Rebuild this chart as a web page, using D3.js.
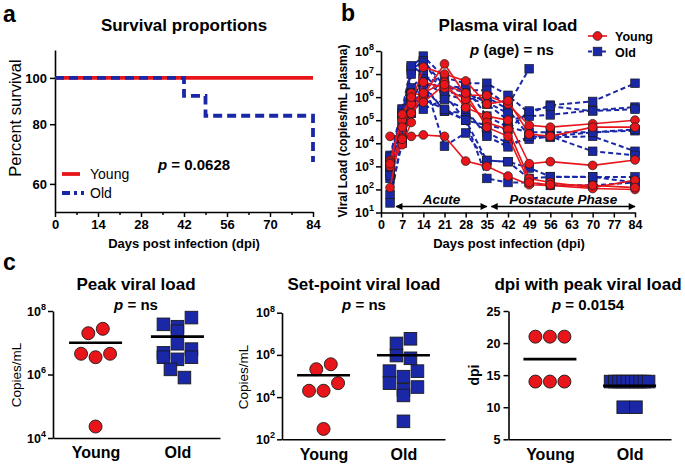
<!DOCTYPE html>
<html><head><meta charset="utf-8">
<script src="https://cdn.jsdelivr.net/npm/d3@7"></script>
<style>
body{margin:0;background:#fff}
svg{font-family:"Liberation Sans",Arial,sans-serif}
</style></head><body>
<svg id="c" width="685" height="465"></svg>
<script>
// ---------- DATA ----------
// panel a: survival
const survYoungDays = [0, 84];
const survYoungPct  = [100, 100];
const survOldDays   = [0, 42, 49, 84];
const survOldPct    = [100, 91.67, 83.33, 66.67];
const survTicksY    = [60, 80, 100];
const survTicksX    = [0, 14, 28, 42, 56, 70, 84];

// panel b: plasma viral load (copies/mL)
const days = [3, 7, 10, 14, 21, 28, 35, 42, 49, 56, 70, 84];
const young1 = [1.8e3, 1.0e5, 1.5e6, 1.2e6, 2.75e7, 1.2e6, 1.2e6, 5e5, 6e4, 5e4, 7e4, 1e5];
const young2 = [1.2e2, 5e4, 5e5, 2.0e7, 1e7, 5e6, 5e5, 7e5, 2.5e4, 2e4, 5e4, 5e4];
const young3 = [1.5e3, 1.7e4, 2e5, 1.5e6, 4.5e6, 3.5e5, 1.5e5, 1e5, 1.3e3, 1.6e3, 1.1e3, 1.9e3];
const young4 = [1e3, 8.7e3, 8e4, 4.5e6, 2.5e6, 8e5, 8e4, 4e4, 3e2, 2e2, 1.2e2, 2.5e2];
const young5 = [2e4, 1.5e4, 2e4, 2.3e4, 2e4, 1.7e3, 1e3, 3.8e2, 1.6e2, 1.5e2, 1.1e2, 1e2];
const young6 = [1.3e3, 1.8e5, 1e6, 6e5, 3.5e6, 1.5e6, 5e4, 2e4, 2e2, 1.6e2, 1.5e2, 1.2e2];
const old1  = [3e3, 3e5, 2e7, 6e7, 7e6, 4e6, 4e6, 1.2e6, 2e5, 4.5e5, 6.5e5, 4e6];
const old2  = [1e3, 2e5, 1.5e7, 3.8e7, 3e6, 2e6, 2e6, 4.4e5, 1.7e7, null, null, null];
const old3  = [5e2, 1.2e5, 1e7, 3.2e7, 2e6, 1e6, 5e5, 1e5, 1.5e5, 1.7e5, 2.7e5, 3.7e5];
const old4  = [3e2, 3e4, 2.3e7, 1e7, 1.3e6, 8e5, 1e6, 3e5, 2e4, 1.8e4, 2e4, 4.5e3];
const old5  = [6e1, 1e4, 2.5e6, 9e6, 3e6, 2.6e6, 1.5e5, 5e4, 3e4, 3e4, 3e4, 3.5e4];
const old6  = [2.6e1, 2e4, 8e5, 6.3e6, 7.5e3, 2.8e4, 1.8e3, 1.6e3, 3e2, 3.5e2, 3.5e2, 3.5e2];
const old7  = [2e3, 5e4, 2e5, 4.8e6, 1.3e6, 1e5, 3e2, 2e2, 2e2, 1.5e2, 1.5e2, 2e2];
const old8  = [8e2, 3e5, 1e6, 3.5e6, 2.5e5, 2e5, 3e4, 1e4, 1.5e4, 2e4, 4.5e3, 3e3];
const old9  = [1.5e3, 1.5e5, 1e6, 3.5e6, 3e6, 1.5e6, 6e5, 2e5, null, null, null, null];
const old10 = [4e2, 4e4, 1.5e6, 3e6, 2.5e5, 1e5, 6e4, 4e4, 2.5e5, 4e5, 2.5e5, 3e5];
const old11 = [2.5e3, 2e5, 1.4e6, 3e5, 8e5, 3e5, 2e4, 7e3, 2e4, 2e4, 3e4, 4e4];
const old12 = [1e3, 1.5e4, 2e5, 8e5, 3e5, 1e5, 1.8e3, 1.6e3, 8.5e2, 3.6e2, 3.5e2, 2e2];
const youngSeries = [young1, young2, young3, young4, young5, young6];
const oldSeries = [old1, old2, old3, old4, old5, old6, old7, old8, old9, old10, old11, old12];
const vlTicksX = [0, 7, 14, 21, 28, 35, 42, 49, 56, 63, 70, 77, 84];
const vlTicksY = [1e1, 1e2, 1e3, 1e4, 1e5, 1e6, 1e7, 1e8];
const acuteSpan = [5, 35];
const postacuteSpan = [36.5, 84];

// panel c
const groups = ["Young", "Old"];
const peakYoung = [2.0e7, 2.75e7, 4.5e6, 3.5e6, 4.5e6, 2.3e4];
const peakOld   = [3.8e7, 3.2e7, 6.2e7, 2.3e7, 4.8e6, 9.3e6, 6.3e6, 3.5e6, 3.0e6, 3.5e6, 1.45e6, 8e5];
const setYoung  = [2.1e5, 3.6e5, 2.0e4, 2.0e4, 4.6e4, 3.1e2];
const setOld    = [3.5e6, 5.8e6, 9.3e5, 6.9e5, 1.7e5, 9.3e4, 1.7e5, 4.6e4, 2.2e4, 3.0e4, 1.2e4, 7.1e2];
const dpiYoung  = [21, 21, 21, 14, 14, 14];
const dpiOld    = [14, 14, 14, 14, 14, 14, 14, 14, 14, 14, 10, 10];
const peakTicks = [1e4, 1e6, 1e8];
const setTicks  = [1e2, 1e4, 1e6, 1e8];
const dpiTicks  = [5, 10, 15, 20, 25];

// ---------- STYLE ----------
const RED = "#e8161b", BLUE = "#1a28a8", EDGE = "#1a1a1a";
const svg = d3.select("#c");

function styleAxis(g) {
  g.select(".domain").attr("stroke", "#000").attr("stroke-width", 1.6);
  g.selectAll(".tick line").attr("stroke", "#000").attr("stroke-width", 1.5);
  g.selectAll(".tick text").attr("fill", "#000").attr("font-weight", "bold")
    .attr("font-family", '"Liberation Sans",Arial,sans-serif');
}
function text(x, y, s, o = {}) {
  const t = svg.append("text").attr("x", x).attr("y", y).text(s)
    .attr("font-size", o.size || 13).attr("font-weight", o.weight || "bold")
    .attr("text-anchor", o.anchor || "middle").attr("fill", "#000");
  if (o.style) t.attr("font-style", o.style);
  if (o.rotate) t.attr("transform", `rotate(-90,${x},${y})`);
  return t;
}
function pText(x, y, rest, size) {
  const t = svg.append("text").attr("x", x).attr("y", y).attr("text-anchor", "middle")
    .attr("font-size", size).attr("font-weight", "bold");
  t.append("tspan").attr("font-style", "italic").text("p");
  t.append("tspan").text(rest);
}
function powLabels(g, scale, vals, x, size) {
  vals.forEach(v => {
    const t = g.append("text").attr("x", x).attr("y", scale(v) + size * 0.36)
      .attr("text-anchor", "end").attr("font-size", size).attr("font-weight", "bold");
    t.append("tspan").text("10");
    t.append("tspan").attr("dy", -size * 0.45).attr("font-size", size * 0.72).text(Math.round(Math.log10(v)));
  });
}

// panel letters
text(3, 22, "a", {size: 23, anchor: "start"});
text(341, 21, "b", {size: 23, anchor: "start"});
text(3, 270, "c", {size: 23, anchor: "start"});

// ---------- PANEL A ----------
{
  const x = d3.scaleLinear().domain([0, 84]).range([55, 313]);
  const y = d3.scaleLog().domain([52.4, 114.4]).range([212, 50]);
  const gx = svg.append("g").attr("transform", "translate(0,212)")
    .call(d3.axisBottom(x).tickValues(survTicksX).tickSize(5).tickSizeOuter(0).tickPadding(3));
  gx.selectAll(".tick text").attr("font-size", 13);
  styleAxis(gx);
  svg.append("g").attr("transform", "translate(0,212)")
    .call(d3.axisBottom(x).tickValues(d3.range(7, 84, 14)).tickSize(3).tickFormat(""))
    .call(g => { g.select(".domain").remove(); styleAxis(g); });
  const gy = svg.append("g").attr("transform", "translate(55,0)")
    .call(d3.axisLeft(y).tickValues(survTicksY).tickFormat(d3.format("d")).tickSize(5).tickSizeOuter(0));
  gy.selectAll(".tick text").attr("font-size", 13);
  styleAxis(gy);

  const line = d3.line().x(d => x(d[0])).y(d => y(d[1]));
  svg.append("path").datum(d3.zip(survYoungDays, survYoungPct)).attr("d", line)
    .attr("fill", "none").attr("stroke", RED).attr("stroke-width", 3.8);
  svg.append("path").datum(d3.zip(survOldDays, survOldPct)).attr("d", line.curve(d3.curveStepAfter))
    .attr("fill", "none").attr("stroke", BLUE).attr("stroke-width", 3.8).attr("stroke-dasharray", "9,5");

  text(184, 31, "Survival proportions", {size: 17});
  text(21, 118, "Percent survival", {size: 16.5, weight: "normal", rotate: true});
  text(184, 248, "Days post infection (dpi)", {size: 13});
  pText(194, 170, " = 0.0628", 15);
  svg.append("line").attr("x1", 62).attr("x2", 80).attr("y1", 174).attr("y2", 174)
    .attr("stroke", RED).attr("stroke-width", 3.8);
  svg.append("line").attr("x1", 62).attr("x2", 84).attr("y1", 193).attr("y2", 193)
    .attr("stroke", BLUE).attr("stroke-width", 3.8).attr("stroke-dasharray", "8,4,3,4");
  text(90, 179, "Young", {size: 14, weight: "normal", anchor: "start"});
  text(90, 198, "Old", {size: 14, weight: "normal", anchor: "start"});
}

// ---------- PANEL B ----------
{
  const x = d3.scaleLinear().domain([0, 84]).range([381, 635]);
  const y = d3.scaleLog().domain([1e1, 1e8]).range([212.5, 51]);
  const gx = svg.append("g").attr("transform", "translate(0,212.5)")
    .call(d3.axisBottom(x).tickValues(vlTicksX).tickSize(5).tickSizeOuter(0).tickPadding(3));
  gx.selectAll(".tick text").attr("font-size", 12.5);
  styleAxis(gx);
  const gy = svg.append("g").attr("transform", "translate(381,0)")
    .call(d3.axisLeft(y).tickValues(vlTicksY).tickFormat("").tickSize(5).tickSizeOuter(0));
  styleAxis(gy);
  powLabels(svg.append("g"), y, vlTicksY, 374, 12.5);

  const line = d3.line().defined(d => d[1] != null).x(d => x(d[0])).y(d => y(d[1]));
  oldSeries.forEach(s => {
    svg.append("path").datum(d3.zip(days, s)).attr("d", line)
      .attr("fill", "none").attr("stroke", BLUE).attr("stroke-width", 2).attr("stroke-dasharray", "5,3");
  });
  oldSeries.forEach(s => {
    svg.append("g").selectAll("rect").data(d3.zip(days, s).filter(d => d[1] != null)).join("rect")
      .attr("x", d => x(d[0]) - 4.3).attr("y", d => y(d[1]) - 4.3).attr("width", 8.6).attr("height", 8.6)
      .attr("fill", BLUE).attr("stroke", EDGE).attr("stroke-width", 0.7);
  });
  youngSeries.forEach(s => {
    svg.append("path").datum(d3.zip(days, s)).attr("d", line)
      .attr("fill", "none").attr("stroke", RED).attr("stroke-width", 1.6);
  });
  youngSeries.forEach(s => {
    svg.append("g").selectAll("circle").data(d3.zip(days, s)).join("circle")
      .attr("cx", d => x(d[0])).attr("cy", d => y(d[1])).attr("r", 4.4)
      .attr("fill", RED).attr("stroke", EDGE).attr("stroke-width", 0.7);
  });

  // phase arrows
  const defs = svg.append("defs");
  defs.append("marker").attr("id", "ah").attr("viewBox", "0 0 10 10").attr("refX", 9).attr("refY", 5)
    .attr("markerWidth", 8).attr("markerHeight", 7).attr("markerUnits", "userSpaceOnUse")
    .attr("orient", "auto-start-reverse")
    .append("path").attr("d", "M0,0 L10,5 L0,10 z").attr("fill", "#000");
  const ay = y(1e1) - 6;
  [acuteSpan, postacuteSpan].forEach(sp => {
    svg.append("line").attr("x1", x(sp[0])).attr("x2", x(sp[1])).attr("y1", ay).attr("y2", ay)
      .attr("stroke", "#000").attr("stroke-width", 1.5)
      .attr("marker-start", "url(#ah)").attr("marker-end", "url(#ah)");
  });
  text(x(d3.mean(acuteSpan)), ay - 3, "Acute", {size: 13.5, style: "italic"});
  text(x(d3.mean(postacuteSpan)), ay - 3, "Postacute Phase", {size: 13.5, style: "italic"});

  text(508, 31, "Plasma viral load", {size: 17});
  pText(512, 55, " (age) = ns", 15);
  text(509, 248, "Days post infection (dpi)", {size: 13});
  text(347, 131, "Viral Load (copies/mL plasma)", {size: 12, rotate: true});

  // legend
  svg.append("line").attr("x1", 588).attr("x2", 607).attr("y1", 36).attr("y2", 36)
    .attr("stroke", RED).attr("stroke-width", 1.6);
  svg.append("circle").attr("cx", 597.5).attr("cy", 36).attr("r", 4.4)
    .attr("fill", RED).attr("stroke", EDGE).attr("stroke-width", 0.7);
  svg.append("line").attr("x1", 588).attr("x2", 608).attr("y1", 51.5).attr("y2", 51.5)
    .attr("stroke", BLUE).attr("stroke-width", 2).attr("stroke-dasharray", "4,3");
  svg.append("rect").attr("x", 593.2).attr("y", 47.2).attr("width", 8.6).attr("height", 8.6)
    .attr("fill", BLUE).attr("stroke", EDGE).attr("stroke-width", 0.7);
  text(615, 41, "Young", {size: 12.5, anchor: "start"});
  text(615, 56.5, "Old", {size: 12.5, anchor: "start"});
}

// ---------- PANEL C ----------
function swarm(values, y, cx, d, maxW) {
  const pts = values.map((v, i) => ({v, i, py: y(v)}));
  const sorted = pts.slice().sort((a, b) => a.py - b.py);
  const rows = []; let cur = null;
  for (const p of sorted) {
    if (cur && p.py - cur[0].py < d * 0.8) cur.push(p); else { cur = [p]; rows.push(cur); }
  }
  rows.forEach(r => {
    r.sort((a, b) => a.i - b.i);
    const n = r.length, s = n > 1 ? Math.min(d, maxW / (n - 1)) : 0;
    r.forEach((p, k) => p.px = cx + (k - (n - 1) / 2) * s);
  });
  return pts;
}

function dotPanel(cfg) {
  const x = d3.scalePoint().domain(groups).range([cfg.x0, cfg.x1]).padding(0.52);
  const y = cfg.y;
  const gx = svg.append("g").attr("transform", `translate(0,${cfg.yb})`)
    .call(d3.axisBottom(x).tickSize(0).tickSizeOuter(0).tickPadding(9));
  styleAxis(gx);
  gx.selectAll(".tick text").attr("font-size", 16);
  const gy = svg.append("g").attr("transform", `translate(${cfg.x0},0)`)
    .call(d3.axisLeft(y).tickValues(cfg.ticks).tickSize(5).tickSizeOuter(0)
      .tickFormat(cfg.log ? "" : d3.format("d")));
  styleAxis(gy);
  gy.selectAll(".tick text").attr("font-size", 12.5);
  if (cfg.log) powLabels(svg.append("g"), y, cfg.ticks, cfg.x0 - 7, 12.5);

  const yl = swarm(cfg.young, y, x("Young"), cfg.dc, cfg.maxW);
  const ol = swarm(cfg.old, y, x("Old"), cfg.ds, cfg.maxW);
  svg.append("g").selectAll("circle").data(yl).join("circle")
    .attr("cx", d => d.px).attr("cy", d => d.py).attr("r", 6.5)
    .attr("fill", RED).attr("stroke", EDGE).attr("stroke-width", 0.9);
  svg.append("g").selectAll("rect").data(ol).join("rect")
    .attr("x", d => d.px - 6.3).attr("y", d => d.py - 6.3).attr("width", 12.6).attr("height", 12.6)
    .attr("fill", BLUE).attr("stroke", EDGE).attr("stroke-width", 0.9);
  [["Young", cfg.young], ["Old", cfg.old]].forEach(([gname, vals]) => {
    const m = d3.mean(vals);
    svg.append("line").attr("x1", x(gname) - 26.5).attr("x2", x(gname) + 26.5)
      .attr("y1", y(m)).attr("y2", y(m)).attr("stroke", "#000").attr("stroke-width", 2.6);
  });
  text(cfg.tx, 290, cfg.title, {size: 17});
  pText(cfg.tx, 310, cfg.p, 15);
  text(cfg.ylx, cfg.yly, cfg.ylab, {size: cfg.ylsize, weight: cfg.ylw || "normal", rotate: true});
}

dotPanel({x0: 53, x1: 220, yb: 438, y: d3.scaleLog().domain([1e4, 1e8]).range([438, 311]), log: true,
  ticks: peakTicks, young: peakYoung, old: peakOld, dc: 14.5, ds: 14, maxW: 44,
  title: "Peak viral load", p: " = ns", tx: 136, ylab: "Copies/mL", ylx: 21, yly: 375, ylsize: 13.5});
dotPanel({x0: 282, x1: 445, yb: 439.3, y: d3.scaleLog().domain([1e2, 1e8]).range([439.3, 312.7]), log: true,
  ticks: setTicks, young: setYoung, old: setOld, dc: 14.5, ds: 14, maxW: 44,
  title: "Set-point viral load", p: " = ns", tx: 364, ylab: "Copies/mL", ylx: 248, yly: 377, ylsize: 13.5});
dotPanel({x0: 508.5, x1: 671, yb: 439.3, y: d3.scaleLinear().domain([5, 25]).range([439.3, 311]), log: false,
  ticks: dpiTicks, young: dpiYoung, old: dpiOld, dc: 14.5, ds: 12.7, maxW: 38,
  title: "dpi with peak viral load", p: " = 0.0154", tx: 588, ylab: "dpi", ylx: 479, yly: 375, ylsize: 14, ylw: "bold"});
</script>
</body></html>
